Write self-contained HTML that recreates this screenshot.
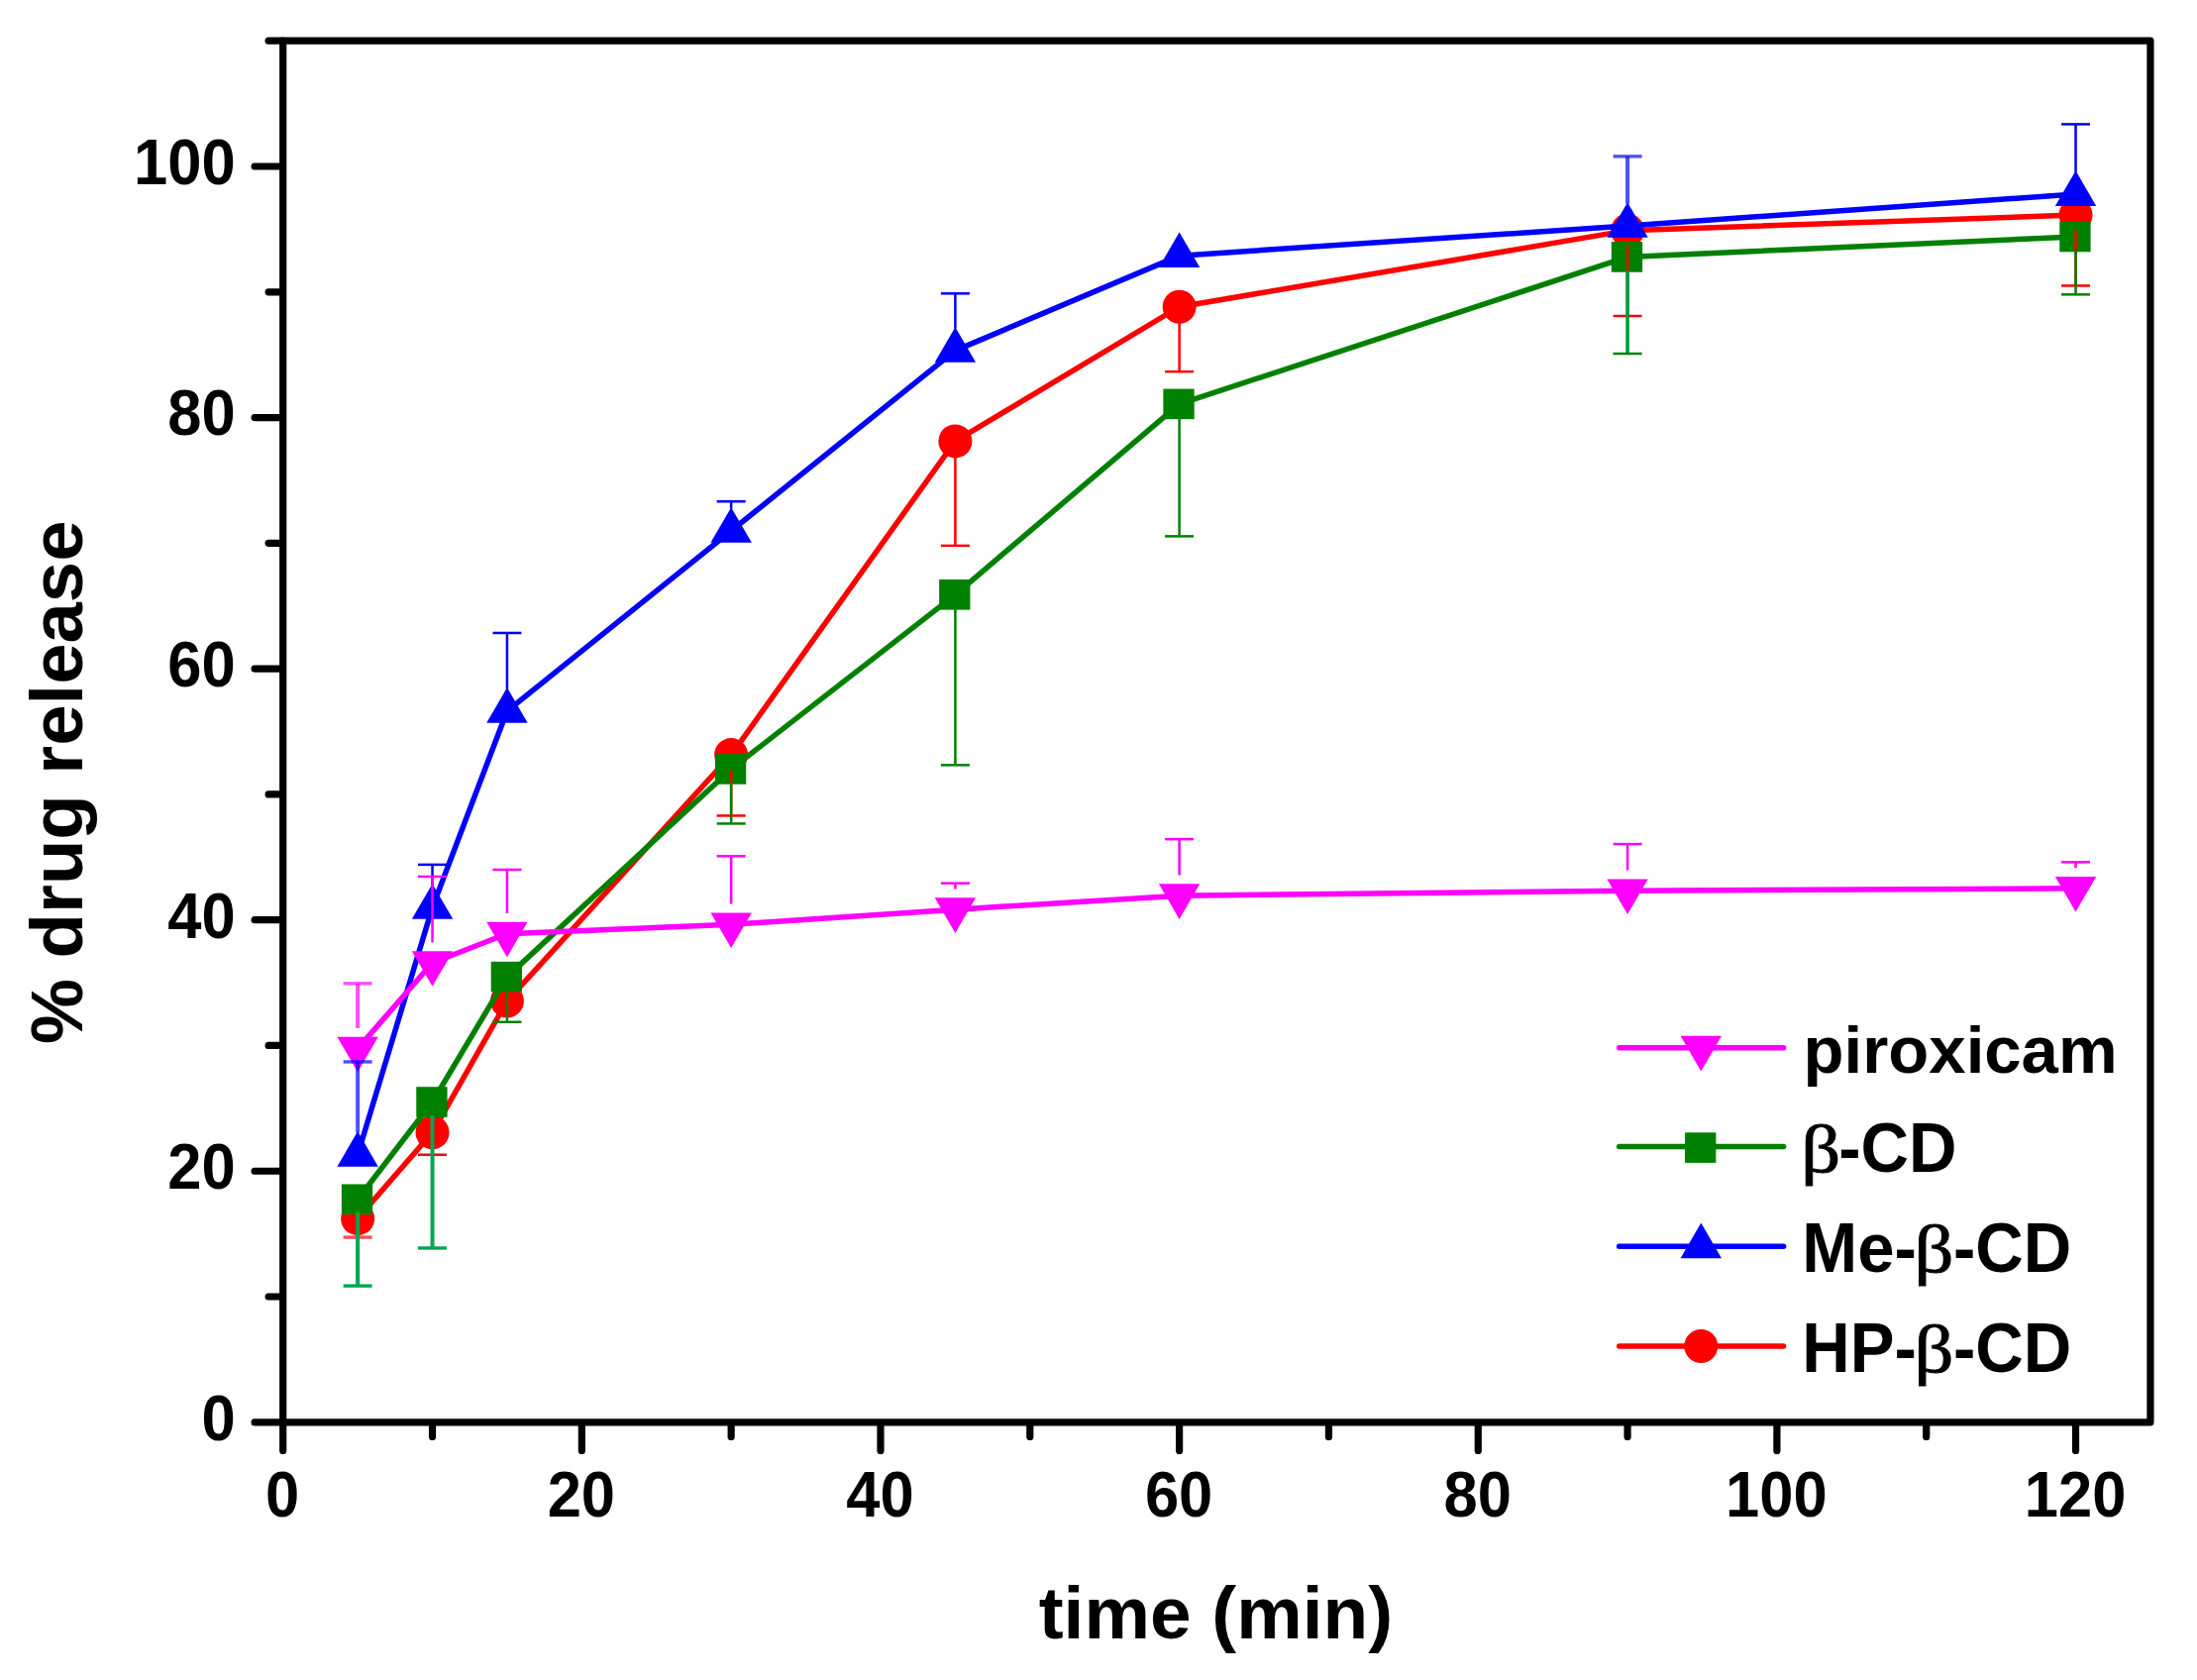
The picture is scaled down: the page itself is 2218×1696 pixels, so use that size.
<!DOCTYPE html>
<html lang="en"><head><meta charset="utf-8"><title>% drug release vs time</title>
<style>
html,body{margin:0;padding:0;background:#fff;}
body{width:2218px;height:1696px;overflow:hidden;}
svg{display:block;}
text{font-family:"Liberation Sans", Arial, Helvetica, sans-serif;font-weight:bold;fill:#000;}
.beta{font-family:"Liberation Serif", "Times New Roman", serif;font-weight:normal;stroke:#000;stroke-width:0.9px;}
</style></head><body>
<svg width="2218" height="1696" viewBox="0 0 2218 1696">
<rect width="2218" height="1696" fill="#fff"/>
<g id="series" stroke-linejoin="round" stroke-linecap="butt">
<polyline points="361.11,1230.16 436.52,1143.32 511.93,1010.58 738.16,762.09 964.39,445.39 1190.62,309.74 1643.08,232.66 2095.54,217.06" fill="none" stroke="#ff0000" stroke-width="5.5"/>
<circle cx="361.11" cy="1230.16" r="17" fill="#ff0000"/>
<circle cx="436.52" cy="1143.32" r="17" fill="#ff0000"/>
<circle cx="511.93" cy="1010.58" r="17" fill="#ff0000"/>
<circle cx="738.16" cy="762.09" r="17" fill="#ff0000"/>
<circle cx="964.39" cy="445.39" r="17" fill="#ff0000"/>
<circle cx="1190.62" cy="309.74" r="17" fill="#ff0000"/>
<circle cx="1643.08" cy="232.66" r="17" fill="#ff0000"/>
<circle cx="2095.54" cy="217.06" r="17" fill="#ff0000"/>
<polyline points="361.11,1210.77 436.52,1112.51 511.93,986.11 738.16,776.42 964.39,600.32 1190.62,407.87 1643.08,259.41 2095.54,239" fill="none" stroke="#008000" stroke-width="5.5"/>
<rect x="344.86" y="1195.47" width="31.3" height="30.6" fill="#008000"/>
<rect x="420.27" y="1097.21" width="31.3" height="30.6" fill="#008000"/>
<rect x="495.68" y="970.81" width="31.3" height="30.6" fill="#008000"/>
<rect x="721.91" y="761.12" width="31.3" height="30.6" fill="#008000"/>
<rect x="948.14" y="585.02" width="31.3" height="30.6" fill="#008000"/>
<rect x="1174.37" y="392.57" width="31.3" height="30.6" fill="#008000"/>
<rect x="1626.83" y="244.11" width="31.3" height="30.6" fill="#008000"/>
<rect x="2079.29" y="223.7" width="31.3" height="30.6" fill="#008000"/>
<polyline points="361.11,1165.76 436.52,916 511.93,717.84 738.16,535.92 964.39,353.86 1190.62,258.14 1643.08,227.97 2095.54,196.02" fill="none" stroke="#0000ff" stroke-width="5.5"/>
<polygon points="361.11,1142.03 340.41,1177.63 381.81,1177.63" fill="#0000ff"/>
<polygon points="436.52,892.27 415.82,927.87 457.22,927.87" fill="#0000ff"/>
<polygon points="511.93,694.11 491.23,729.71 532.63,729.71" fill="#0000ff"/>
<polygon points="738.16,512.18 717.46,547.78 758.86,547.78" fill="#0000ff"/>
<polygon points="964.39,330.13 943.69,365.73 985.09,365.73" fill="#0000ff"/>
<polygon points="1190.62,234.41 1169.92,270.01 1211.32,270.01" fill="#0000ff"/>
<polygon points="1643.08,204.23 1622.38,239.83 1663.78,239.83" fill="#0000ff"/>
<polygon points="2095.54,172.29 2074.84,207.89 2116.24,207.89" fill="#0000ff"/>
<polyline points="361.11,1058.63 436.52,972.04 511.93,942.63 738.16,933.24 964.39,918.16 1190.62,904.21 1643.08,899.27 2095.54,896.86" fill="none" stroke="#ff00ff" stroke-width="5.5"/>
<polygon points="361.11,1082.36 340.41,1046.76 381.81,1046.76" fill="#ff00ff"/>
<polygon points="436.52,995.77 415.82,960.17 457.22,960.17" fill="#ff00ff"/>
<polygon points="511.93,966.36 491.23,930.76 532.63,930.76" fill="#ff00ff"/>
<polygon points="738.16,956.98 717.46,921.38 758.86,921.38" fill="#ff00ff"/>
<polygon points="964.39,941.89 943.69,906.29 985.09,906.29" fill="#ff00ff"/>
<polygon points="1190.62,927.94 1169.92,892.34 1211.32,892.34" fill="#ff00ff"/>
<polygon points="1643.08,923 1622.38,887.4 1663.78,887.4" fill="#ff00ff"/>
<polygon points="2095.54,920.59 2074.84,884.99 2116.24,884.99" fill="#ff00ff"/>
</g>
<g id="errors" fill="none">
<line x1="361.11" y1="1245.66" x2="361.11" y2="1249.05" stroke="#ff0000" stroke-width="4" stroke-opacity="0.69"/>
<line x1="346.61" y1="1249.05" x2="375.61" y2="1249.05" stroke="#ff0000" stroke-width="3.4" stroke-opacity="0.69"/>
<line x1="436.52" y1="1158.82" x2="436.52" y2="1165.76" stroke="#ff0000" stroke-width="2.5"/>
<line x1="422.02" y1="1165.76" x2="451.02" y2="1165.76" stroke="#ff0000" stroke-width="2.5"/>
<line x1="738.16" y1="777.59" x2="738.16" y2="823.45" stroke="#ff0000" stroke-width="2.5"/>
<line x1="723.66" y1="823.45" x2="752.66" y2="823.45" stroke="#ff0000" stroke-width="2.5"/>
<line x1="964.39" y1="460.89" x2="964.39" y2="550.88" stroke="#ff0000" stroke-width="2.5"/>
<line x1="949.89" y1="550.88" x2="978.89" y2="550.88" stroke="#ff0000" stroke-width="2.5"/>
<line x1="1190.62" y1="325.24" x2="1190.62" y2="375.16" stroke="#ff0000" stroke-width="2.5"/>
<line x1="1176.12" y1="375.16" x2="1205.12" y2="375.16" stroke="#ff0000" stroke-width="2.5"/>
<line x1="1643.08" y1="248.16" x2="1643.08" y2="318.99" stroke="#ff0000" stroke-width="2.5"/>
<line x1="1628.58" y1="318.99" x2="1657.58" y2="318.99" stroke="#ff0000" stroke-width="2.5"/>
<line x1="2095.54" y1="232.56" x2="2095.54" y2="288.44" stroke="#ff0000" stroke-width="2.5"/>
<line x1="2081.04" y1="288.44" x2="2110.04" y2="288.44" stroke="#ff0000" stroke-width="2.5"/>
<line x1="361.11" y1="1224.57" x2="361.11" y2="1298.12" stroke="#00a651" stroke-width="4"/>
<line x1="346.61" y1="1298.12" x2="375.61" y2="1298.12" stroke="#00a651" stroke-width="3.4"/>
<line x1="436.52" y1="1126.31" x2="436.52" y2="1259.96" stroke="#00a651" stroke-width="4"/>
<line x1="422.02" y1="1259.96" x2="451.02" y2="1259.96" stroke="#00a651" stroke-width="3.4"/>
<line x1="511.93" y1="999.91" x2="511.93" y2="1031.75" stroke="#008000" stroke-width="2.5"/>
<line x1="497.43" y1="1031.75" x2="526.43" y2="1031.75" stroke="#008000" stroke-width="2.5"/>
<line x1="738.16" y1="790.22" x2="738.16" y2="831.44" stroke="#008000" stroke-width="2.5"/>
<line x1="723.66" y1="831.44" x2="752.66" y2="831.44" stroke="#008000" stroke-width="2.5"/>
<line x1="964.39" y1="614.12" x2="964.39" y2="772.36" stroke="#008000" stroke-width="2.5"/>
<line x1="949.89" y1="772.36" x2="978.89" y2="772.36" stroke="#008000" stroke-width="2.5"/>
<line x1="1190.62" y1="421.67" x2="1190.62" y2="541.37" stroke="#008000" stroke-width="2.5"/>
<line x1="1176.12" y1="541.37" x2="1205.12" y2="541.37" stroke="#008000" stroke-width="2.5"/>
<line x1="1643.08" y1="273.21" x2="1643.08" y2="357.03" stroke="#009a3c" stroke-width="3.6"/>
<line x1="1628.58" y1="357.03" x2="1657.58" y2="357.03" stroke="#008000" stroke-width="2.5"/>
<line x1="2095.54" y1="252.8" x2="2095.54" y2="297.32" stroke="#008000" stroke-width="2.5"/>
<line x1="2081.04" y1="297.32" x2="2110.04" y2="297.32" stroke="#008000" stroke-width="2.5"/>
<line x1="361.11" y1="1143.53" x2="361.11" y2="1071.94" stroke="#0000ff" stroke-width="4" stroke-opacity="0.69"/>
<line x1="346.61" y1="1071.94" x2="375.61" y2="1071.94" stroke="#0000ff" stroke-width="3.4" stroke-opacity="0.69"/>
<line x1="436.52" y1="893.77" x2="436.52" y2="872.9" stroke="#0000ff" stroke-width="2.5"/>
<line x1="422.02" y1="872.9" x2="451.02" y2="872.9" stroke="#0000ff" stroke-width="2.5"/>
<line x1="511.93" y1="695.61" x2="511.93" y2="638.99" stroke="#0000ff" stroke-width="2.5"/>
<line x1="497.43" y1="638.99" x2="526.43" y2="638.99" stroke="#0000ff" stroke-width="2.5"/>
<line x1="738.16" y1="513.68" x2="738.16" y2="506.25" stroke="#0000ff" stroke-width="2.5"/>
<line x1="723.66" y1="506.25" x2="752.66" y2="506.25" stroke="#0000ff" stroke-width="2.5"/>
<line x1="964.39" y1="331.63" x2="964.39" y2="296.3" stroke="#0000ff" stroke-width="2.5"/>
<line x1="949.89" y1="296.3" x2="978.89" y2="296.3" stroke="#0000ff" stroke-width="2.5"/>
<line x1="1643.08" y1="205.73" x2="1643.08" y2="157.86" stroke="#0000ff" stroke-width="4" stroke-opacity="0.69"/>
<line x1="1628.58" y1="157.86" x2="1657.58" y2="157.86" stroke="#0000ff" stroke-width="3.4" stroke-opacity="0.69"/>
<line x1="2095.54" y1="173.79" x2="2095.54" y2="125.4" stroke="#0000ff" stroke-width="2.5"/>
<line x1="2081.04" y1="125.4" x2="2110.04" y2="125.4" stroke="#0000ff" stroke-width="2.5"/>
<line x1="361.11" y1="1037.93" x2="361.11" y2="992.83" stroke="#ff00ff" stroke-width="4" stroke-opacity="0.69"/>
<line x1="346.61" y1="992.83" x2="375.61" y2="992.83" stroke="#ff00ff" stroke-width="3.4" stroke-opacity="0.69"/>
<line x1="436.52" y1="951.34" x2="436.52" y2="884.94" stroke="#ff00ff" stroke-width="2.5"/>
<line x1="422.02" y1="884.94" x2="451.02" y2="884.94" stroke="#ff00ff" stroke-width="2.5"/>
<line x1="511.93" y1="921.93" x2="511.93" y2="877.97" stroke="#ff00ff" stroke-width="2.5"/>
<line x1="497.43" y1="877.97" x2="526.43" y2="877.97" stroke="#ff00ff" stroke-width="2.5"/>
<line x1="738.16" y1="912.54" x2="738.16" y2="864.28" stroke="#ff00ff" stroke-width="2.5"/>
<line x1="723.66" y1="864.28" x2="752.66" y2="864.28" stroke="#ff00ff" stroke-width="2.5"/>
<line x1="964.39" y1="897.46" x2="964.39" y2="891.66" stroke="#ff00ff" stroke-width="2.5"/>
<line x1="949.89" y1="891.66" x2="978.89" y2="891.66" stroke="#ff00ff" stroke-width="2.5"/>
<line x1="1190.62" y1="883.51" x2="1190.62" y2="847.16" stroke="#ff00ff" stroke-width="2.5"/>
<line x1="1176.12" y1="847.16" x2="1205.12" y2="847.16" stroke="#ff00ff" stroke-width="2.5"/>
<line x1="1643.08" y1="878.57" x2="1643.08" y2="852.1" stroke="#ff00ff" stroke-width="2.5"/>
<line x1="1628.58" y1="852.1" x2="1657.58" y2="852.1" stroke="#ff00ff" stroke-width="2.5"/>
<line x1="2095.54" y1="876.16" x2="2095.54" y2="870.36" stroke="#ff00ff" stroke-width="2.5"/>
<line x1="2081.04" y1="870.36" x2="2110.04" y2="870.36" stroke="#ff00ff" stroke-width="2.5"/>
</g>
<g id="axes" stroke="#000" stroke-width="7.2" fill="none" stroke-linecap="butt">
<rect x="285.7" y="41.22" width="1885.25" height="1394.58" stroke-linejoin="round"/>
</g>
<g id="ticks" stroke="#000" stroke-width="7.2" stroke-linecap="round">
<line x1="285.7" y1="1436.8" x2="285.7" y2="1464.4"/>
<line x1="436.52" y1="1436.8" x2="436.52" y2="1450.4"/>
<line x1="587.34" y1="1436.8" x2="587.34" y2="1464.4"/>
<line x1="738.16" y1="1436.8" x2="738.16" y2="1450.4"/>
<line x1="888.98" y1="1436.8" x2="888.98" y2="1464.4"/>
<line x1="1039.8" y1="1436.8" x2="1039.8" y2="1450.4"/>
<line x1="1190.62" y1="1436.8" x2="1190.62" y2="1464.4"/>
<line x1="1341.44" y1="1436.8" x2="1341.44" y2="1450.4"/>
<line x1="1492.26" y1="1436.8" x2="1492.26" y2="1464.4"/>
<line x1="1643.08" y1="1436.8" x2="1643.08" y2="1450.4"/>
<line x1="1793.9" y1="1436.8" x2="1793.9" y2="1464.4"/>
<line x1="1944.72" y1="1436.8" x2="1944.72" y2="1450.4"/>
<line x1="2095.54" y1="1436.8" x2="2095.54" y2="1464.4"/>
<line x1="284.7" y1="1435.8" x2="257.1" y2="1435.8"/>
<line x1="284.7" y1="1309.02" x2="271.1" y2="1309.02"/>
<line x1="284.7" y1="1182.24" x2="257.1" y2="1182.24"/>
<line x1="284.7" y1="1055.46" x2="271.1" y2="1055.46"/>
<line x1="284.7" y1="928.68" x2="257.1" y2="928.68"/>
<line x1="284.7" y1="801.9" x2="271.1" y2="801.9"/>
<line x1="284.7" y1="675.12" x2="257.1" y2="675.12"/>
<line x1="284.7" y1="548.34" x2="271.1" y2="548.34"/>
<line x1="284.7" y1="421.56" x2="257.1" y2="421.56"/>
<line x1="284.7" y1="294.78" x2="271.1" y2="294.78"/>
<line x1="284.7" y1="168" x2="257.1" y2="168"/>
<line x1="284.7" y1="41.22" x2="271.1" y2="41.22"/>
</g>
<g id="xlabels">
<text text-anchor="middle" transform="translate(285.2,1530.8) scale(1,1.04)" font-size="61.5">0</text>
<text text-anchor="middle" transform="translate(586.84,1530.8) scale(1,1.04)" font-size="61.5">20</text>
<text text-anchor="middle" transform="translate(888.48,1530.8) scale(1,1.04)" font-size="61.5">40</text>
<text text-anchor="middle" transform="translate(1190.12,1530.8) scale(1,1.04)" font-size="61.5">60</text>
<text text-anchor="middle" transform="translate(1491.76,1530.8) scale(1,1.04)" font-size="61.5">80</text>
<text text-anchor="middle" transform="translate(1793.4,1530.8) scale(1,1.04)" font-size="61.5">100</text>
<text text-anchor="middle" transform="translate(2095.04,1530.8) scale(1,1.04)" font-size="61.5">120</text>
</g>
<g id="ylabels">
<text text-anchor="end" transform="translate(237.6,1453.7) scale(1,1.04)" font-size="61.5">0</text>
<text text-anchor="end" transform="translate(237.6,1200.14) scale(1,1.04)" font-size="61.5">20</text>
<text text-anchor="end" transform="translate(237.6,946.58) scale(1,1.04)" font-size="61.5">40</text>
<text text-anchor="end" transform="translate(237.6,693.02) scale(1,1.04)" font-size="61.5">60</text>
<text text-anchor="end" transform="translate(237.6,439.46) scale(1,1.04)" font-size="61.5">80</text>
<text text-anchor="end" transform="translate(237.6,185.9) scale(1,1.04)" font-size="61.5">100</text>
</g>
<text id="xtitle" text-anchor="middle" transform="translate(1227.4,1654)" font-size="74.8">time (min)</text>
<text id="ytitle" text-anchor="middle" transform="translate(82.8,789.8) rotate(-90)" font-size="74.3">% drug release</text>
<g id="legend">
<line x1="1634.7" y1="1057.7" x2="1800.6" y2="1057.7" stroke="#ff00ff" stroke-width="5.5" stroke-linecap="round"/>
<polygon points="1717.3,1081.43 1696.6,1045.83 1738,1045.83" fill="#ff00ff"/>
<text transform="translate(0,1083.2)" font-size="67.1"><tspan x="1820.6">piroxicam</tspan></text>
<line x1="1634.7" y1="1157.6" x2="1800.6" y2="1157.6" stroke="#008000" stroke-width="5.5" stroke-linecap="round"/>
<rect x="1701.05" y="1143.3" width="31.3" height="30.6" fill="#008000"/>
<text transform="translate(0,1183.1) scale(1,1.04)" font-size="67.1"><tspan x="1818.3" class="beta" font-size="64.42" textLength="39.9" lengthAdjust="spacingAndGlyphs">β</tspan><tspan x="1856.2">-CD</tspan></text>
<line x1="1634.7" y1="1258.3" x2="1800.6" y2="1258.3" stroke="#0000ff" stroke-width="5.5" stroke-linecap="round"/>
<polygon points="1717.3,1234.57 1696.6,1270.17 1738,1270.17" fill="#0000ff"/>
<text transform="translate(0,1284.3) scale(1,1.04)" font-size="67.1"><tspan x="1819.3">Me-</tspan><tspan x="1932.4" class="beta" font-size="64.42" textLength="39.9" lengthAdjust="spacingAndGlyphs">β</tspan><tspan x="1972">-CD</tspan></text>
<line x1="1634.7" y1="1359" x2="1800.6" y2="1359" stroke="#ff0000" stroke-width="5.5" stroke-linecap="round"/>
<circle cx="1717.3" cy="1359" r="17" fill="#ff0000"/>
<text transform="translate(0,1385) scale(1,1.04)" font-size="67.1"><tspan x="1819.3">HP-</tspan><tspan x="1932.4" class="beta" font-size="64.42" textLength="39.9" lengthAdjust="spacingAndGlyphs">β</tspan><tspan x="1972">-CD</tspan></text>
</g>
</svg>
</body></html>
